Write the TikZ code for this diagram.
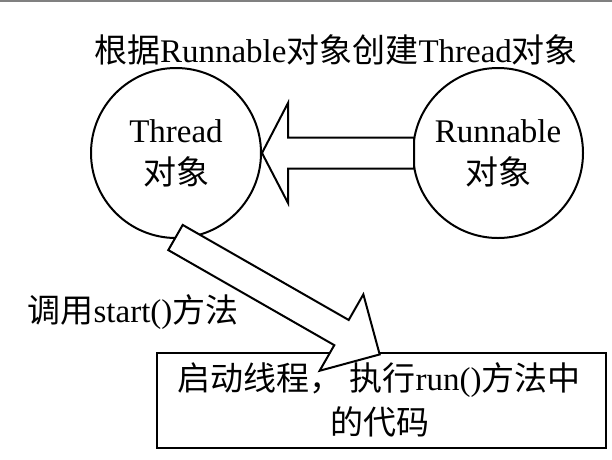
\documentclass[tikz,border=0pt]{standalone}
\usepackage{fontspec}
\setmainfont{Liberation Serif}
\newfontfamily\cjk{Noto Sans CJK SC}
\begin{document}
\begin{tikzpicture}[x=1pt,y=-1pt,
  obj/.style={circle,draw,line width=2pt,minimum size=170pt,inner sep=0pt},
  blockarrow/.style={draw,fill=white,line width=2pt,line join=miter},
  lbl/.style={anchor=base,inner sep=0pt},
  fA/.style={font=\fontsize{33}{38}\selectfont},
  fB/.style={font=\fontsize{33}{38}\selectfont},
  fC/.style={font=\fontsize{33}{38}\selectfont}]
\useasboundingbox (0,0) rectangle (612,459);
\fill[white] (0,0) rectangle (612,459);
\draw[gray,line width=3pt] (0,0) -- (612,0);
% title
\node[lbl,fA] (title) at (336,62) {{\cjk 根据}Runnable{\cjk 对象创建}Thread{\cjk 对象}};
% circles
\node[obj] (thread) at (176,153) {};
\node[obj] (runnable) at (498,153) {};
\node[lbl,fB] (threadA) at (thread.center) [yshift=11pt] {Thread};
\node[lbl,fB] (threadB) at (thread.center) [yshift=-31pt] {\cjk 对象};
\node[lbl,fB] (runA) at (runnable.center) [yshift=11pt] {Runnable};
\node[lbl,fB] (runB) at (runnable.center) [yshift=-31pt] {\cjk 对象};
% box
\node[draw,line width=2.5pt,minimum width=449pt,minimum height=95pt,inner sep=0pt] (box) at (381.5,400.5) {};
\node[lbl,fC] (boxA) at (379,390) {{\cjk 启动线程， 执行}run(){\cjk 方法中}};
\node[lbl,fC] (boxB) at (380,434) {\cjk 的代码};
% label
\node[lbl,font=\fontsize{33}{38}\selectfont] (call) at (133,322) {{\cjk 调用}start(){\cjk 方法}};
% left block arrow: from runnable to thread
\draw[blockarrow] (414,137.5) -- (288,137.5) -- (288,103) -- (thread.0) -- (288,203) -- (288,168.5) -- (414,168.5) -- cycle;
% diagonal block arrow: thread to box
\begin{scope}[shift={(175.5,237.5)},rotate=-29.8]
\draw[blockarrow] (0,-14.5) -- (191.3,-14.5) -- (191.3,-44) -- (235.3,0) coordinate (tip) -- (191.3,44) -- (191.3,14.5) -- (0,14.5) -- cycle;
\end{scope}
\end{tikzpicture}
\end{document}
